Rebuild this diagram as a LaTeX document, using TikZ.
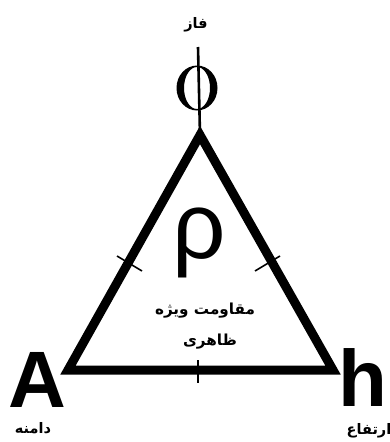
\documentclass[tikz,border=0pt]{standalone}
\usepackage{fontspec}
\setmainfont{Liberation Sans}
\newfontfamily\arabicfont[Script=Arabic]{DejaVu Sans}
\TeXXeTstate=1
\begin{document}
\begin{tikzpicture}[x=1pt,y=-1pt,
  side/.style={line width=9pt,line join=miter},
  tick/.style={line width=1.6pt},
  fa/.style={font=\arabicfont\bfseries\fontsize{14.5}{16}\selectfont,inner sep=0pt},
  fabig/.style={font=\arabicfont\bfseries\fontsize{15.2}{18}\selectfont,inner sep=0pt},
  big/.style={font=\bfseries\fontsize{80}{80}\selectfont,inner sep=0pt}]
\useasboundingbox (0,0) rectangle (390,442);
\coordinate (top) at (200,135);
\coordinate (bl) at (68,370);
\coordinate (br) at (333,370);
\coordinate (stem) at (198,47);
\coordinate (phic) at (197,88);
\draw[side] (top) -- (bl) -- (br) -- cycle;
% phi symbol
\fill[even odd rule] (phic) ellipse [x radius=20.5pt, y radius=22.5pt]
                     (phic) ellipse [x radius=13pt, y radius=21pt];
\draw[line width=2.6pt] (stem) -- (top);
% ticks
\draw[tick] (117,256) -- (142,271);
\draw[tick] (255,271) -- (280,256);
\draw[tick] (198,360) -- (198,383);
\node[fa] (faz) at (196,25) {\beginR فاز\endR};
\node[inner sep=0pt,font=\fontsize{94}{94}\selectfont] (rho) at (199,243) {ρ};
\node[fabig] (l1) at (205,311) {\beginR مقاومت ویژه\endR};
\node[fabig] (l2) at (210,342) {\beginR ظاهری\endR};
\node[big,anchor=base] (A) at (37,407) {A};
\node[big,anchor=base] (h) at (363,406) {h};
\node[fa] (dam) at (33,428) {\beginR دامنه\endR};
\node[fa] (ert) at (369,431) {\beginR ارتفاع\endR};
\end{tikzpicture}
\end{document}
